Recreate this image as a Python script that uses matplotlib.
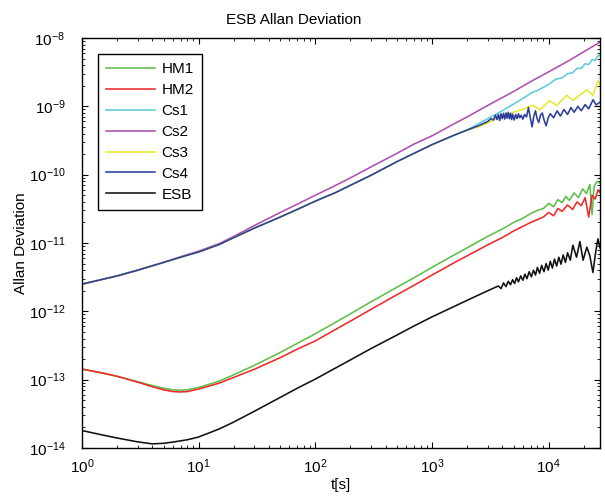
import numpy as np
import matplotlib
matplotlib.use("Agg")
import matplotlib.pyplot as plt

plt.rcParams["font.family"] = ["Liberation Sans", "DejaVu Sans"]
plt.rcParams["mathtext.default"] = "regular"

# shared early part of Cs1, Cs3, Cs4
tau_cs = [1, 2, 3, 5, 7, 10, 15, 20, 30, 50, 70, 100, 150, 200, 300, 500, 700, 1000, 1500, 2000]
adev_cs = [2.5e-12, 3.3e-12, 4.0e-12, 5.2e-12, 6.2e-12, 7.4e-12, 9.5e-12, 1.2e-11, 1.65e-11,
           2.4e-11, 3.1e-11, 4.1e-11, 5.5e-11, 7.0e-11, 9.8e-11, 1.55e-10, 2.05e-10, 2.75e-10,
           3.7e-10, 4.5e-10]

# Cs1 tail
tau_cs1 = [3000, 4000, 5000, 6000, 7000, 8500, 10000, 11500, 13000, 14500, 16000, 17500,
           19000, 20500, 22000, 23500, 25000, 26500, 27500]
adev_cs1 = [6.6e-10, 8.6e-10, 1.08e-9, 1.3e-9, 1.55e-9, 1.8e-9, 2.1e-9, 2.5e-9, 2.6e-9,
            3.0e-9, 3.1e-9, 3.6e-9, 3.6e-9, 4.2e-9, 4.1e-9, 4.8e-9, 4.7e-9, 5.5e-9, 5.8e-9]

# Cs2 (full)
tau_cs2 = [1, 2, 3, 5, 7, 10, 15, 20, 30, 50, 70, 100, 150, 200, 300, 500, 700, 1000, 1500,
           2000, 3000, 5000, 7000, 10000, 15000, 20000, 27500]
adev_cs2 = [2.5e-12, 3.3e-12, 4.0e-12, 5.2e-12, 6.3e-12, 7.6e-12, 9.8e-12, 1.25e-11, 1.8e-11,
            2.8e-11, 3.7e-11, 5.0e-11, 7.0e-11, 9.0e-11, 1.3e-10, 2.05e-10, 2.8e-10, 3.7e-10,
            5.4e-10, 7.0e-10, 1.03e-9, 1.65e-9, 2.3e-9, 3.2e-9, 4.7e-9, 6.3e-9, 8.7e-9]

# Cs3 tail
tau_cs3 = [2500, 3000, 3500, 3800, 4500, 5000, 5700, 6500, 7300, 8400, 10200, 11700, 14300,
           16100, 21200, 23900, 26400, 27500]
adev_cs3 = [5.0e-10, 5.7e-10, 6.5e-10, 7.2e-10, 7.6e-10, 8.2e-10, 8.8e-10, 9.6e-10, 1.04e-9,
            8.9e-10, 1.22e-9, 1.03e-9, 1.45e-9, 1.22e-9, 1.75e-9, 1.45e-9, 2.35e-9, 2.1e-9]

# Cs4 tail
tau_cs4 = [2500, 3000, 3200, 3350, 3500, 3600, 3700, 3800, 3900, 4000, 4100, 4200, 4300, 4400,
           4500, 4600, 4700, 4800, 4900, 5050, 5200, 5350, 5500, 5650, 5800, 6000, 6200, 6450,
           6700, 6950, 7200, 7450, 7700, 7950, 8200, 8500, 8800, 9150, 9500, 9900, 10300,
           11000, 11800, 12600, 13500, 14500, 15500, 16500, 17800, 19000, 20500, 22000, 24000,
           25500, 27500]
adev_cs4 = [5.2e-10, 6.0e-10, 6.6e-10, 6.3e-10, 7.4e-10, 6.4e-10, 7.6e-10, 6.2e-10, 7.8e-10,
            6.6e-10, 7.9e-10, 6.5e-10, 8.0e-10, 6.7e-10, 8.2e-10, 6.6e-10, 7.9e-10, 6.4e-10,
            7.7e-10, 6.3e-10, 7.6e-10, 6.6e-10, 7.8e-10, 6.8e-10, 7.4e-10, 6.5e-10, 7.6e-10,
            7.0e-10, 9.6e-10, 6.8e-10, 5.0e-10, 7.2e-10, 8.6e-10, 6.6e-10, 5.8e-10, 7.4e-10,
            8.0e-10, 6.2e-10, 5.2e-10, 6.8e-10, 7.8e-10, 6.8e-10, 8.6e-10, 7.2e-10, 9.0e-10,
            7.6e-10, 9.6e-10, 8.2e-10, 1.0e-9, 8.6e-10, 1.06e-9, 9.2e-10, 1.25e-9, 1.05e-9,
            1.15e-9]

# HM1
tau_hm1 = [1, 1.5, 2, 3, 4, 5, 6, 7, 8, 10, 15, 20, 30, 50, 70, 100, 200, 300, 500, 700, 1000,
           1500, 2000, 3000, 4000, 5000, 6000, 7000, 8000, 9000, 10000, 11000, 12000, 13000,
           14000, 15000, 16500, 18000, 19500, 21000, 22500, 23500, 24500, 26000, 27500]
adev_hm1 = [1.43e-13, 1.25e-13, 1.12e-13, 9.3e-14, 8.2e-14, 7.5e-14, 7.1e-14, 7.0e-14, 7.1e-14,
            7.7e-14, 9.5e-14, 1.18e-13, 1.62e-13, 2.5e-13, 3.4e-13, 4.7e-13, 9.2e-13, 1.38e-12,
            2.25e-12, 3.1e-12, 4.4e-12, 6.5e-12, 8.5e-12, 1.25e-11, 1.6e-11, 2.0e-11, 2.3e-11,
            2.7e-11, 3.0e-11, 3.2e-11, 3.8e-11, 3.4e-11, 4.3e-11, 3.9e-11, 4.8e-11, 4.2e-11,
            5.4e-11, 4.6e-11, 6.2e-11, 5.3e-11, 7.2e-11, 2.6e-11, 6.8e-11, 8.0e-11, 7.5e-11]

# HM2
tau_hm2 = [1, 1.5, 2, 3, 4, 5, 6, 7, 8, 10, 15, 20, 30, 50, 70, 100, 200, 300, 500, 700, 1000,
           1500, 2000, 3000, 4000, 5000, 6000, 7000, 8000, 9000, 10000, 11000, 12000, 13000,
           14500, 16000, 17500, 19000, 20500, 22000, 23500, 25000, 26500, 27500]
adev_hm2 = [1.43e-13, 1.25e-13, 1.12e-13, 9.2e-14, 7.9e-14, 7.1e-14, 6.7e-14, 6.6e-14, 6.7e-14,
            7.3e-14, 8.9e-14, 1.08e-13, 1.42e-13, 2.1e-13, 2.8e-13, 3.7e-13, 7.2e-13, 1.07e-12,
            1.75e-12, 2.4e-12, 3.4e-12, 5.0e-12, 6.5e-12, 9.4e-12, 1.2e-11, 1.5e-11, 1.75e-11,
            2.0e-11, 2.2e-11, 2.4e-11, 2.8e-11, 2.5e-11, 3.2e-11, 2.9e-11, 3.6e-11, 3.1e-11,
            4.0e-11, 3.5e-11, 4.6e-11, 2.4e-11, 5.0e-11, 4.4e-11, 6.0e-11, 5.5e-11]

# ESB
tau_esb = [1, 1.5, 2, 3, 4, 5, 6, 8, 10, 15, 20, 30, 50, 70, 100, 200, 300, 500, 700, 1000,
           1500, 2000, 3000, 3700, 3900, 4100, 4300, 4500, 4700, 4900, 5100, 5300, 5500, 5750,
           6000, 6250, 6500, 6800, 7100, 7400, 7700, 8000, 8350, 8700, 9100, 9500, 9900, 10300,
           10750, 11200, 11700, 12200, 12750, 13300, 13900, 14500, 15300, 16100, 17300, 18500,
           19700, 21200, 22500, 23900, 25300, 26400, 27500]
adev_esb = [1.8e-14, 1.55e-14, 1.4e-14, 1.23e-14, 1.15e-14, 1.17e-14, 1.22e-14, 1.32e-14,
            1.45e-14, 1.9e-14, 2.4e-14, 3.45e-14, 5.5e-14, 7.5e-14, 1.02e-13, 1.95e-13, 2.85e-13,
            4.5e-13, 6.1e-13, 8.3e-13, 1.15e-12, 1.45e-12, 2.0e-12, 2.35e-12, 2.15e-12, 2.6e-12,
            2.3e-12, 2.75e-12, 2.45e-12, 2.9e-12, 2.55e-12, 3.1e-12, 2.7e-12, 3.3e-12, 2.85e-12,
            3.5e-12, 3.0e-12, 3.8e-12, 3.2e-12, 4.0e-12, 3.4e-12, 4.4e-12, 3.6e-12, 4.7e-12,
            3.8e-12, 5.0e-12, 4.0e-12, 5.4e-12, 4.3e-12, 5.8e-12, 4.6e-12, 6.2e-12, 4.9e-12,
            6.7e-12, 5.2e-12, 7.2e-12, 5.6e-12, 9.3e-12, 6.2e-12, 1.05e-11, 5.6e-12, 8.7e-12,
            6.5e-12, 3.7e-12, 7.5e-12, 1.15e-11, 8.5e-12]

series = [
    ("HM1", tau_hm1, adev_hm1, "#5cbf48"),
    ("HM2", tau_hm2, adev_hm2, "#ee2a2a"),
    ("Cs1", tau_cs + tau_cs1, adev_cs + adev_cs1, "#5ccbd9"),
    ("Cs2", tau_cs2, adev_cs2, "#b04fb0"),
    ("Cs3", tau_cs + tau_cs3, adev_cs + adev_cs3, "#e8e82c"),
    ("Cs4", tau_cs + tau_cs4, adev_cs + adev_cs4, "#2c3e9c"),
    ("ESB", tau_esb, adev_esb, "#111111"),
]

fig = plt.figure(figsize=(6.05, 4.99), dpi=100)
ax = fig.add_axes([82 / 605, 1 - 448 / 499, 518 / 605, 410 / 499])

for name, t, v, c in series:
    ax.loglog(t, v, color=c, linewidth=1.15, label=name)

ax.set_xlim(1, 2.75e4)
ax.set_ylim(1e-14, 1e-8)
ax.tick_params(which="both", direction="in", top=True, right=True, labelsize=11)
ax.tick_params(which="major", length=4, width=0.8)
ax.tick_params(which="minor", length=2.5, width=0.6)
ax.tick_params(axis="y", pad=12)
ax.tick_params(axis="x", pad=7)
for s in ax.spines.values():
    s.set_linewidth(1.0)

ax.set_xlabel("t[s]", fontsize=11, labelpad=1)
ax.set_ylabel("Allan Deviation", fontsize=11)
ax.yaxis.set_label_coords(-0.104, 0.5)
fig.text(294 / 605, 1 - 20 / 499, "ESB Allan Deviation", ha="center", va="center", fontsize=11)

leg = ax.legend(loc="upper left", bbox_to_anchor=(0.031, 0.961), fontsize=11,
                handlelength=3.2, handletextpad=0.4, labelspacing=0.45, borderpad=0.55,
                borderaxespad=0, fancybox=False, framealpha=1)
leg.get_frame().set_edgecolor("black")
leg.get_frame().set_linewidth(1.0)

fig.savefig("out.png", dpi=100)
